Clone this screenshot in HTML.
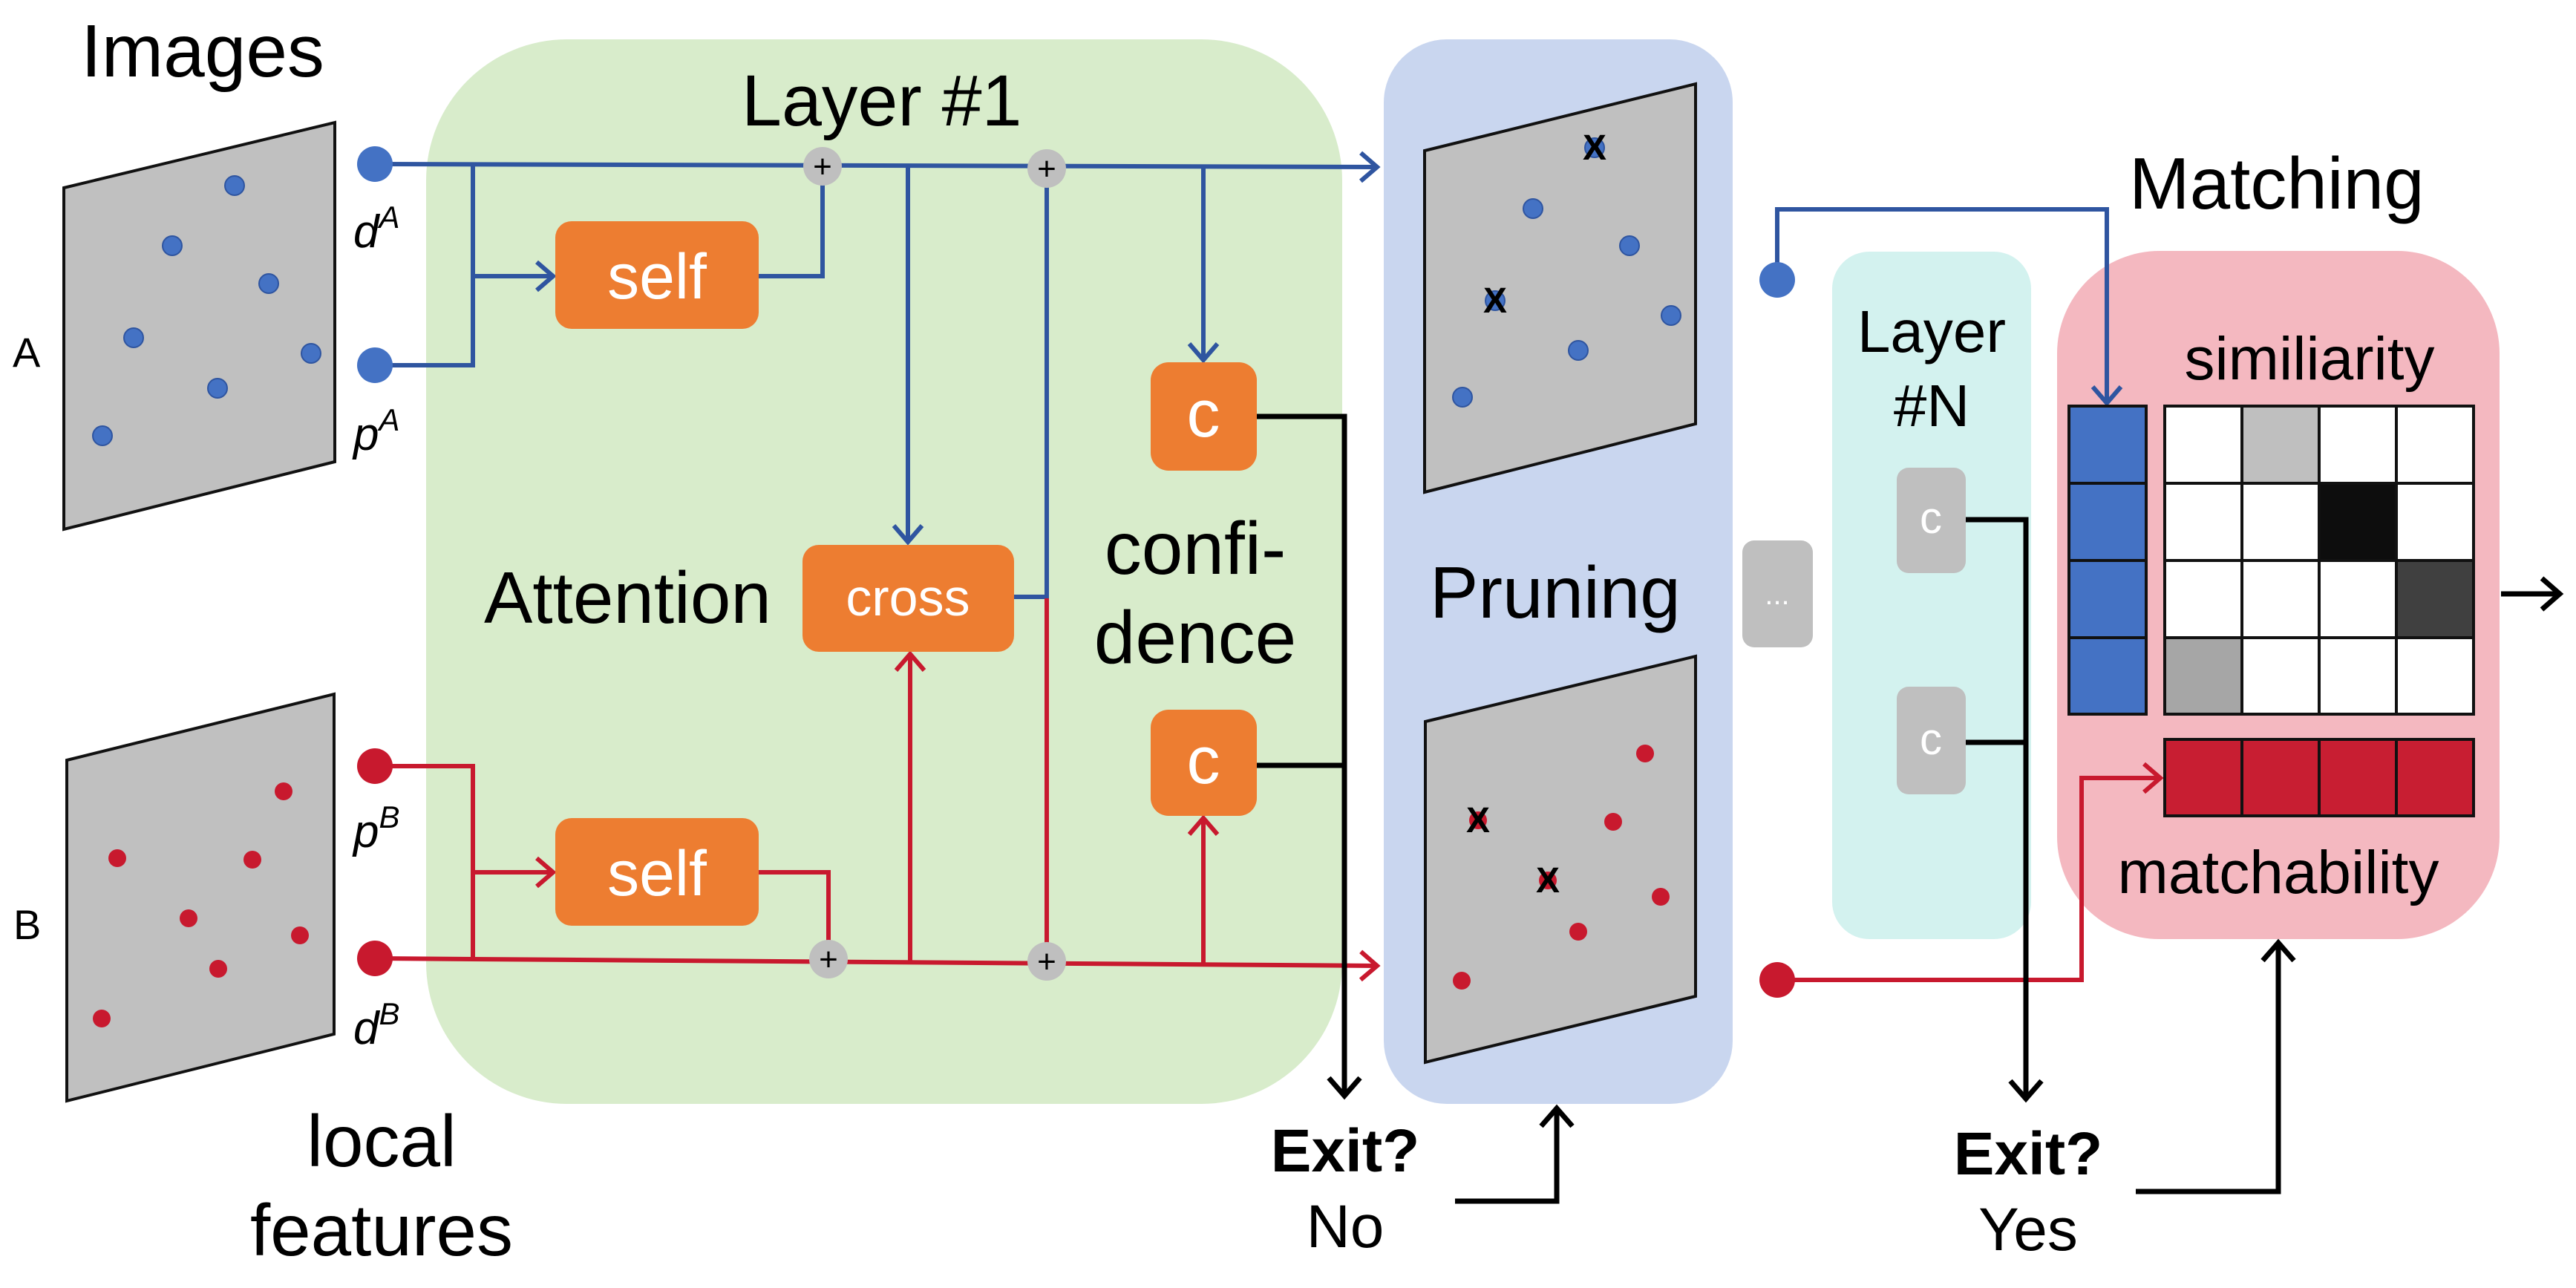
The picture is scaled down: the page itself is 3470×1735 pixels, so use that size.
<!DOCTYPE html>
<html><head><meta charset="utf-8"><style>
html,body{margin:0;padding:0;background:#fff;}
svg{display:block;}
text{font-family:"Liberation Sans",Arial,sans-serif;}
</style></head><body>
<svg width="3470" height="1735" viewBox="0 0 3470 1735" xmlns="http://www.w3.org/2000/svg">
<defs>
<marker id="ab" markerWidth="10" markerHeight="10" refX="9" refY="5" orient="auto" markerUnits="userSpaceOnUse" viewBox="0 0 10 10" overflow="visible">
<path d="M-22,-14 L0,5 L-22,24" transform="translate(9,0)" fill="none" stroke="#2F55A0" stroke-width="6"/></marker>
<marker id="ar" markerWidth="10" markerHeight="10" refX="9" refY="5" orient="auto" markerUnits="userSpaceOnUse" viewBox="0 0 10 10" overflow="visible">
<path d="M-22,-14 L0,5 L-22,24" transform="translate(9,0)" fill="none" stroke="#C8192E" stroke-width="6"/></marker>
<marker id="ak" markerWidth="10" markerHeight="10" refX="9" refY="5" orient="auto" markerUnits="userSpaceOnUse" viewBox="0 0 10 10" overflow="visible">
<path d="M-24,-16 L0,5 L-24,26" transform="translate(9,0)" fill="none" stroke="#000" stroke-width="7"/></marker>
</defs>

<!-- backgrounds -->
<rect x="574" y="53" width="1234" height="1434" rx="190" ry="190" fill="#D8ECCB"/>
<rect x="1864" y="53" width="470" height="1434" rx="85" ry="85" fill="#C9D6EF"/>
<rect x="2468" y="339" width="268" height="926" rx="50" ry="50" fill="#D3F2EF"/>
<rect x="2771" y="338" width="596" height="927" rx="138" ry="138" fill="#F4B8C0"/>

<!-- texts -->
<text x="109" y="103" font-size="100">Images</text>
<text x="999" y="169" font-size="97">Layer #1</text>
<text x="17" y="494" font-size="56">A</text>
<text x="18" y="1265" font-size="56">B</text>
<text x="652" y="839" font-size="98">Attention</text>
<text x="1610" y="773" font-size="100" text-anchor="middle">confi-</text>
<text x="1610" y="893" font-size="100" text-anchor="middle">dence</text>
<text x="1926" y="832" font-size="98">Pruning</text>
<text x="2868" y="281" font-size="98">Matching</text>
<text x="2602" y="474" font-size="80" text-anchor="middle">Layer</text>
<text x="2602" y="574" font-size="80" text-anchor="middle">#N</text>
<text x="3111" y="511" font-size="82" text-anchor="middle">similiarity</text>
<text x="3069" y="1203" font-size="82" text-anchor="middle">matchability</text>
<text x="514" y="1571" font-size="98" text-anchor="middle">local</text>
<text x="514" y="1691" font-size="98" text-anchor="middle">features</text>
<text x="1812" y="1578" font-size="82" font-weight="bold" text-anchor="middle">Exit?</text>
<text x="1812" y="1680" font-size="82" text-anchor="middle">No</text>
<text x="2732" y="1582" font-size="82" font-weight="bold" text-anchor="middle">Exit?</text>
<text x="2732" y="1684" font-size="82" text-anchor="middle">Yes</text>
<g font-family="Liberation Serif,serif" font-style="italic" font-size="62">
<text x="476" y="333">d<tspan font-size="42" dy="-26">A</tspan></text>
<text x="476" y="606">p<tspan font-size="42" dy="-26">A</tspan></text>
<text x="476" y="1141">p<tspan font-size="42" dy="-26">B</tspan></text>
<text x="476" y="1406">d<tspan font-size="42" dy="-26">B</tspan></text>
</g>

<!-- image planes -->
<polygon points="86,253 451,165 451,622 86,713" fill="#C0C0C0" stroke="#111" stroke-width="4"/>
<polygon points="90,1024 450,935 450,1393 90,1483" fill="#C0C0C0" stroke="#111" stroke-width="4"/>
<polygon points="1919,203 2284,113 2284,571 1919,663" fill="#C0C0C0" stroke="#111" stroke-width="4"/>
<polygon points="1920,972 2284,884 2284,1342 1920,1431" fill="#C0C0C0" stroke="#111" stroke-width="4"/>

<g fill="#4472C4" stroke="#2F55A0" stroke-width="2">
<circle cx="316" cy="250" r="13"/><circle cx="232" cy="331" r="13"/><circle cx="362" cy="382" r="13"/>
<circle cx="180" cy="455" r="13"/><circle cx="419" cy="476" r="13"/><circle cx="293" cy="523" r="13"/><circle cx="138" cy="587" r="13"/>
<circle cx="2148" cy="199" r="13"/><circle cx="2065" cy="281" r="13"/><circle cx="2195" cy="331" r="13"/>
<circle cx="2014" cy="405" r="13"/><circle cx="2251" cy="425" r="13"/><circle cx="2126" cy="472" r="13"/><circle cx="1970" cy="535" r="13"/>
</g>
<g fill="#C8192E">
<circle cx="382" cy="1066" r="12"/><circle cx="158" cy="1156" r="12"/><circle cx="340" cy="1158" r="12"/>
<circle cx="254" cy="1237" r="12"/><circle cx="404" cy="1260" r="12"/><circle cx="294" cy="1305" r="12"/><circle cx="137" cy="1372" r="12"/>
<circle cx="2216" cy="1015" r="12"/><circle cx="1991" cy="1105" r="12"/><circle cx="2173" cy="1107" r="12"/>
<circle cx="2085" cy="1186" r="12"/><circle cx="2237" cy="1208" r="12"/><circle cx="2126" cy="1255" r="12"/><circle cx="1969" cy="1321" r="12"/>
</g>
<g font-size="48" font-weight="bold" text-anchor="middle" fill="#000">
<text x="2148" y="215">X</text><text x="2014" y="421">X</text>
<text x="1991" y="1121">X</text><text x="2085" y="1202">X</text>
</g>

<!-- blue lines -->
<g fill="none" stroke="#2F55A0" stroke-width="6">
<line x1="505" y1="221" x2="1855" y2="225" marker-end="url(#ab)"/>
<polyline points="505,492 637,492 637,221"/>
<line x1="637" y1="372" x2="745" y2="372" marker-end="url(#ab)"/>
<polyline points="1022,372 1108,372 1108,224"/>
<line x1="1223" y1="224" x2="1223" y2="730" marker-end="url(#ab)"/>
<line x1="1621" y1="226" x2="1621" y2="485" marker-end="url(#ab)"/>
<polyline points="1366,804 1410,804 1410,227"/>
<polyline points="2394,377 2394,282 2838,282 2838,543" marker-end="url(#ab)"/>
</g>
<!-- red lines -->
<g fill="none" stroke="#C8192E" stroke-width="6">
<line x1="505" y1="1291" x2="1855" y2="1301" marker-end="url(#ar)"/>
<polyline points="505,1032 637,1032 637,1292"/>
<line x1="637" y1="1175" x2="745" y2="1175" marker-end="url(#ar)"/>
<polyline points="1022,1175 1116,1175 1116,1292"/>
<line x1="1226" y1="1295" x2="1226" y2="881" marker-end="url(#ar)"/>
<line x1="1410" y1="1296" x2="1410" y2="806"/>
<line x1="1621" y1="1297" x2="1621" y2="1102" marker-end="url(#ar)"/>
<polyline points="2394,1320 2804,1320 2804,1048 2910,1048" marker-end="url(#ar)"/>
</g>
<!-- black lines -->
<g fill="none" stroke="#000" stroke-width="7">
<polyline points="1693,561 1811,561 1811,1476" marker-end="url(#ak)"/>
<line x1="1693" y1="1031" x2="1811" y2="1031"/>
<polyline points="1960,1618 2097,1618 2097,1493" marker-end="url(#ak)"/>
<polyline points="2648,700 2729,700 2729,1480" marker-end="url(#ak)"/>
<line x1="2648" y1="1000" x2="2729" y2="1000"/>
<polyline points="2877,1605 3069,1605 3069,1270" marker-end="url(#ak)"/>
<line x1="3369" y1="800" x2="3448" y2="800" marker-end="url(#ak)"/>
</g>

<!-- endpoints -->
<g fill="#4472C4"><circle cx="505" cy="221" r="24"/><circle cx="505" cy="492" r="24"/><circle cx="2394" cy="377" r="24"/></g>
<g fill="#C8192E"><circle cx="505" cy="1032" r="24"/><circle cx="505" cy="1291" r="24"/><circle cx="2394" cy="1320" r="24"/></g>

<!-- plus nodes -->
<g>
<circle cx="1108" cy="224" r="26" fill="#BFBFBF"/><circle cx="1410" cy="227" r="26" fill="#BFBFBF"/>
<circle cx="1116" cy="1292" r="26" fill="#BFBFBF"/><circle cx="1410" cy="1295" r="26" fill="#BFBFBF"/>
<g font-size="44" text-anchor="middle"><text x="1108" y="239">+</text><text x="1410" y="242">+</text><text x="1116" y="1307">+</text><text x="1410" y="1310">+</text></g>
</g>

<!-- orange boxes -->
<g fill="#ED7D31">
<rect x="748" y="298" width="274" height="145" rx="22"/>
<rect x="748" y="1102" width="274" height="145" rx="22"/>
<rect x="1081" y="734" width="285" height="144" rx="22"/>
<rect x="1550" y="488" width="143" height="146" rx="24"/>
<rect x="1550" y="956" width="143" height="143" rx="24"/>
</g>
<g fill="#fff" text-anchor="middle">
<text x="885" y="402" font-size="86">self</text>
<text x="885" y="1206" font-size="86">self</text>
<text x="1223" y="829" font-size="70">cross</text>
<text x="1621" y="588" font-size="90">c</text>
<text x="1621" y="1055" font-size="90">c</text>
</g>
<!-- gray boxes -->
<g fill="#BFBFBF">
<rect x="2555" y="630" width="93" height="142" rx="16"/>
<rect x="2555" y="925" width="93" height="145" rx="16"/>
<rect x="2347" y="728" width="95" height="144" rx="16"/>
</g>
<g fill="#fff" text-anchor="middle">
<text x="2601" y="718" font-size="60">c</text>
<text x="2601" y="1016" font-size="60">c</text>
<text x="2394" y="814" font-size="40">...</text>
</g>

<!-- matching grids -->
<g stroke="#111" stroke-width="4">
<rect x="2787" y="547" width="104" height="104" fill="#4472C4"/>
<rect x="2787" y="651" width="104" height="104" fill="#4472C4"/>
<rect x="2787" y="755" width="104" height="104" fill="#4472C4"/>
<rect x="2787" y="859" width="104" height="103" fill="#4472C4"/>
<rect x="2916" y="547" width="104" height="104" fill="#fff"/><rect x="3020" y="547" width="104" height="104" fill="#BFBFBF"/><rect x="3124" y="547" width="104" height="104" fill="#fff"/><rect x="3228" y="547" width="104" height="104" fill="#fff"/>
<rect x="2916" y="651" width="104" height="104" fill="#fff"/><rect x="3020" y="651" width="104" height="104" fill="#fff"/><rect x="3124" y="651" width="104" height="104" fill="#0D0D0D"/><rect x="3228" y="651" width="104" height="104" fill="#fff"/>
<rect x="2916" y="755" width="104" height="104" fill="#fff"/><rect x="3020" y="755" width="104" height="104" fill="#fff"/><rect x="3124" y="755" width="104" height="104" fill="#fff"/><rect x="3228" y="755" width="104" height="104" fill="#404040"/>
<rect x="2916" y="859" width="104" height="103" fill="#A6A6A6"/><rect x="3020" y="859" width="104" height="103" fill="#fff"/><rect x="3124" y="859" width="104" height="103" fill="#fff"/><rect x="3228" y="859" width="104" height="103" fill="#fff"/>
<rect x="2916" y="996" width="104" height="103" fill="#C81E32"/><rect x="3020" y="996" width="104" height="103" fill="#C81E32"/><rect x="3124" y="996" width="104" height="103" fill="#C81E32"/><rect x="3228" y="996" width="104" height="103" fill="#C81E32"/>
</g>
</svg>
</body></html>
